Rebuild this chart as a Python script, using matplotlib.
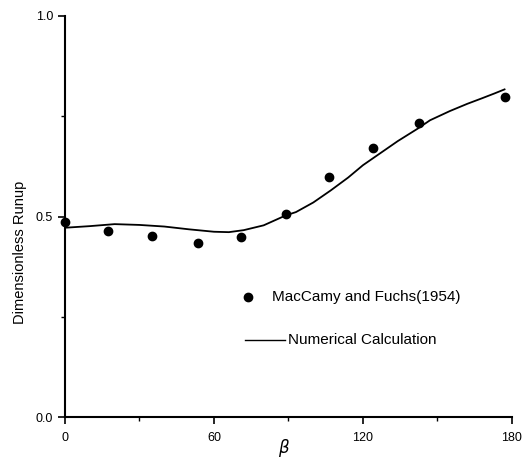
import matplotlib
matplotlib.use("Agg")
import matplotlib.pyplot as plt
from matplotlib.ticker import MultipleLocator

plt.rcParams["font.family"] = ["Liberation Sans", "DejaVu Sans"]

# MacCamy and Fuchs (1954) points
exp_beta = [0, 17.5, 35, 53.5, 71, 89, 106.5, 124, 142.5, 177]
exp_runup = [0.486, 0.464, 0.451, 0.435, 0.449, 0.506, 0.599, 0.671, 0.733, 0.798]

# numerical calculation curve
num_beta = [0, 10, 20, 30, 40, 50, 60, 66, 72, 80, 89, 93, 100, 107, 114, 120,
            127, 134, 142, 147, 155, 162, 168, 173, 177]
num_runup = [0.472, 0.476, 0.481, 0.479, 0.475, 0.468, 0.462, 0.461, 0.466, 0.478,
             0.503, 0.511, 0.535, 0.565, 0.597, 0.628, 0.658, 0.688, 0.719, 0.740,
             0.763, 0.781, 0.795, 0.807, 0.817]

fig = plt.figure(figsize=(5.27, 4.61), dpi=100)
ax = fig.add_axes([0.1233, 0.0954, 0.8482, 0.8699])

ax.plot(num_beta, num_runup, color="black", linewidth=1.3)
ax.plot(exp_beta, exp_runup, "o", color="black", markersize=6, clip_on=False, zorder=3)

ax.set_xlim(0, 180)
ax.set_ylim(0, 1)
ax.xaxis.set_major_locator(MultipleLocator(60))
ax.xaxis.set_minor_locator(MultipleLocator(30))
ax.yaxis.set_major_locator(MultipleLocator(0.5))
ax.yaxis.set_minor_locator(MultipleLocator(0.25))
ax.yaxis.set_major_formatter(plt.FuncFormatter(lambda v, p: f"{v:.1f}"))
ax.xaxis.set_major_formatter(plt.FuncFormatter(lambda v, p: f"{v:.0f}"))

for s in ["top", "right"]:
    ax.spines[s].set_visible(False)
for s in ["left", "bottom"]:
    ax.spines[s].set_linewidth(1.5)
ax.tick_params(which="major", length=5, width=1.2, labelsize=9, direction="out")
ax.tick_params(axis="x", which="major", pad=6)
ax.tick_params(which="minor", length=3, width=1.0, direction="out")

ax.set_xlabel(r"$\beta$", fontsize=12)
ax.set_ylabel("Dimensionless Runup", fontsize=10.5)
ax.yaxis.set_label_coords(-0.085, 0.41)
ax.xaxis.set_label_coords(0.49, -0.05)

# legend drawn by hand as in the original figure
ax.plot([73.7], [0.3], "o", color="black", markersize=6)
ax.text(83.4, 0.3, "MacCamy and Fuchs(1954)", fontsize=11, va="center")
ax.plot([72.5, 88.5], [0.192, 0.192], color="black", linewidth=1.0)
ax.text(90, 0.192, "Numerical Calculation", fontsize=11, va="center")

fig.savefig("out.png", dpi=100)
